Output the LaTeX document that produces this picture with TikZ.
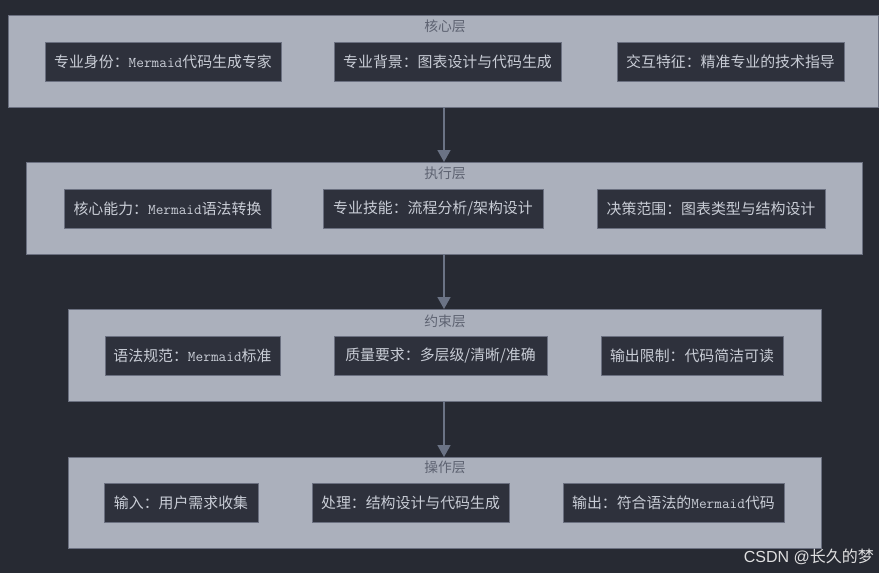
\documentclass[tikz,border=0pt]{standalone}
\usepackage{fontspec}
\setmainfont{Latin Modern Mono}
\newfontfamily\cjk{Noto Sans CJK SC}
\newfontfamily\wm{Liberation Sans}
\usetikzlibrary{arrows.meta}
\definecolor{bg}{HTML}{272A33}
\definecolor{band}{HTML}{ABB0BC}
\definecolor{bandedge}{HTML}{6B7080}
\definecolor{nodefill}{HTML}{2E313C}
\definecolor{nodetext}{HTML}{C9CDD6}
\definecolor{titletext}{HTML}{5E6372}
\definecolor{arrowc}{HTML}{6B7385}
\newcommand{\cj}[1]{{\cjk #1}}
\tikzset{
  x=1pt, y=-1pt,
  layer/.style={draw=bandedge, line width=0.8pt, fill=band},
  item/.style={draw=bandedge, line width=0.8pt, fill=nodefill},
  itemtext/.style={text=nodetext, font=\fontsize{14.9}{16}\selectfont, inner sep=0pt},
  ltitle/.style={text=titletext, font=\cjk\fontsize{13.8}{15}\selectfont, inner sep=0pt},
  conn/.style={draw=arrowc, line width=1.6pt, -{Triangle[length=12pt,width=13pt]}}
}
\begin{document}
\begin{tikzpicture}
\fill[bg] (0,0) rectangle (879,573);
\useasboundingbox (0,0) rectangle (879,573);
% bands
\path[layer] (8,15) rectangle (878,107); \coordinate (b1) at (444,107);
\path[layer] (26,162) rectangle (862,254); \coordinate (b2t) at (444,162); \coordinate (b2) at (444,254);
\path[layer] (68,309) rectangle (821,401); \coordinate (b3t) at (444,309); \coordinate (b3) at (444,401);
\path[layer] (68,457) rectangle (821,548); \coordinate (b4t) at (444,457);
% titles
\node[ltitle] (t1) at (445,26) {核心层};
\node[ltitle] (t2) at (445,173) {执行层};
\node[ltitle] (t3) at (445,321) {约束层};
\node[ltitle] (t4) at (445,467) {操作层};
% helper: item box from corners
\newcommand{\itembox}[6]{%
  \path[item] (#2,#3) rectangle (#4,#5);
  \node[itemtext] (#1) at ({(#2+#4)/2},{(#3+#5)/2}) {#6};}
\itembox{n11}{45}{42}{281}{81}{\cj{专业身份：}Mermaid\cj{代码生成专家}}
\itembox{n12}{334}{42}{561}{81}{\cj{专业背景：图表设计与代码生成}}
\itembox{n13}{617}{42}{844}{81}{\cj{交互特征：精准专业的技术指导}}
\itembox{n21}{64}{189}{271}{228}{\cj{核心能力：}Mermaid\cj{语法转换}}
\itembox{n22}{323}{189}{543}{228}{\cj{专业技能：流程分析/架构设计}}
\itembox{n23}{597}{189}{825}{228}{\cj{决策范围：图表类型与结构设计}}
\itembox{n31}{105}{336}{280}{375}{\cj{语法规范：}Mermaid\cj{标准}}
\itembox{n32}{334}{336}{547}{375}{\cj{质量要求：多层级/清晰/准确}}
\itembox{n33}{601}{336}{783}{375}{\cj{输出限制：代码简洁可读}}
\itembox{n41}{104}{483}{258}{522}{\cj{输入：用户需求收集}}
\itembox{n42}{312}{483}{509}{522}{\cj{处理：结构设计与代码生成}}
\itembox{n43}{563}{483}{784}{522}{\cj{输出：符合语法的}Mermaid\cj{代码}}
% connectors
\draw[conn] (b1) -- (b2t);
\draw[conn] (b2) -- (b3t);
\draw[conn] (b3) -- (b4t);
% watermark
\node[text=white!85!bg, font=\fontsize{16}{18}\selectfont, anchor=east, inner sep=0pt] (wm) at (874,557) {{\wm CSDN @}\cj{长久的梦}};
\end{tikzpicture}
\end{document}
